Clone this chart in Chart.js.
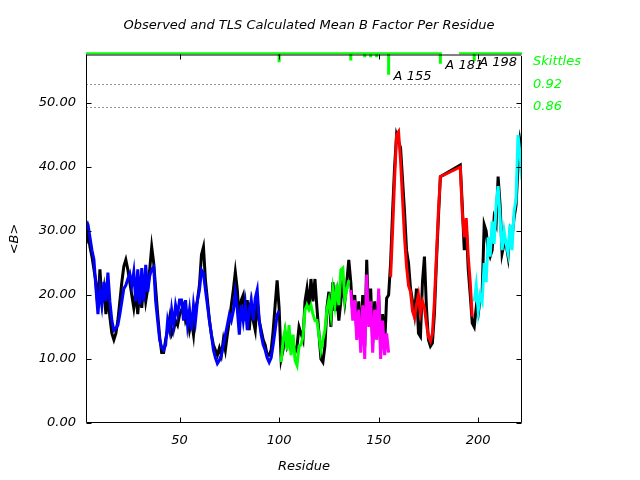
<!DOCTYPE html>
<html><head><meta charset="utf-8">
<script src="https://cdn.jsdelivr.net/npm/chart.js@4/dist/chart.umd.min.js"></script>
<style>html,body{margin:0;padding:0;background:#fff}</style>
</head><body><canvas id="c" width="640" height="480"></canvas>
<script>
// ---------- data ----------
const xTicks = [50, 100, 150, 200];
const yTicks = [0, 10, 20, 30, 40, 50];
const skittleTicks = [0.86, 0.92];

// observed mean B, residues 3..181 then 191..222
const observedStart1 = 3;
const observed1 = [
 28,30,27.5,26,24,22,18,24,19,21,17,20,16.5,14,13,14,16,19,22,24.5,25.5,24,22,20,18,20.5,17,21,18,22,19,21,24,27.5,25,21,17,13.5,11,
 11,13,14.5,16.4,13.8,14.5,16,15.3,16.9,17.7,18.4,16,16.9,14.5,16,13.8,17.7,19.2,21.6,26.3,27.5,22.3,19.2,16,13.8,12.2,11.4,10.6,11.7,10.6,
 13,11.4,13.8,16,18.4,20.8,23.6,20.8,16,19.2,20,16,19.2,14.5,18.4,16,14.5,19.2,16,14.5,13,12.2,10.6,10.6,11.4,14.4,18.4,22.3,18,
 10,11.5,14,12,13,11.5,12.5,11,12,15,14,13,19,21,18,22.5,19,22.5,18,14,10,9.5,12,18,20.5,15,22,17.5,20,16,19,22,19,22,25.5,
 22,17,20,14,19,12,20,12,25.5,16,21,12.5,19,14,20,11.5,17,12,19.5,20,
 25,33,40,45,44,43,38,33,27,25,21,19,17,21,14,13.5,22,26,18,13,12,12.5,17,25,32,38.5
];
const observedStart2 = 191;
const observed2 = [
 40.3,34,27,31,24,20,15.6,15,18,17,19.5,20.5,31,30,27,26,27,32,31,38.5,34,26.5,28,28,26,30,29,32,34,40,44,42
];

// TLS calculated mean B by segment
const calcBlueStart = 3;
const calcBlue = [
 31.5,31,29,27,25.5,21,17,21,18.5,22,19,23.5,19,16,14.5,14.8,15.3,17,19,21,21.5,22.5,23.3,21.5,23.6,19,24,18.5,24.2,19,24.7,20.5,23,24,24.4,19,16,13,11.8,
 11.4,12.2,16,14.5,17.7,15.3,18.4,16.9,19.2,19.2,16,19.2,15.3,17.7,14.5,18.4,16,19.2,20.8,23.9,23.4,20.8,18.4,16,13.8,11.4,10.2,9.3,9.8,10.6,
 12.2,13.8,15.3,16.9,16,17.5,20.3,17.7,13.8,18.4,16,18.5,14.5,17.7,19.2,16,19.5,20.8,16,13.8,12.2,11.4,10.2,9.5,10.2,12.2,14.5,16.9,17.5
];
const calcGreenStart = 101;
const calcGreen = [
 9.5,13,14.5,11.4,15.3,10.6,13.8,9.8,9,12,12.2,13.5,17.7,18.4,17.7,18.4,17,16,16,13.8,11.4,13,14.5,17.7,19.2,16.9,20.8,18.4,21.6,18.4,23.9,24.2,19.2,20.8,22.3
];
const calcMagentaStart = 136;
const calcMagenta = [
 20.8,16,19.2,13,17.7,11,18.4,10,23.2,15,19,11,17.7,13,21,10,16,10.6,14,11
];
const calcRedStart1 = 156;
const calcRed1 = [
 22.8,30,38,45,45.5,41,35,29,24.5,21.5,20.5,17.5,16.5,18.5,20,17.2,19,18,15.5,13.5,12.8,14,19,26,33,38.5
];
const calcRedStart2 = 191;
const calcRed2 = [40,33,29,32,26,22,16.6];
const calcCyanStart = 198;
const calcCyan = [
 19,21.5,17.5,20,19,25,22,29,26,31.5,28,34,37,32,27,30,28,26.5,31,27,33,35,45,42,38
];

// skittles (secondary axis, 0..1)
const skittleTop = 1.005;
const skittleLineRanges = [[3, 181.7], [190.4, 222]];
const skittleRes = [100, 136, 143, 146, 149, 155, 181, 198];
const skittleBottom = [0.980, 0.985, 0.994, 0.994, 0.994, 0.946, 0.976, 0.984];
const skittleLabels = ['A 155', 'A 181', 'A 198'];
const skittleLabelRes = [155, 181, 198];

// ---------- build ----------
const F = '"DejaVu Sans", Verdana, sans-serif';
const pts = (start, vals) => vals.map((v, i) => ({x: start + i, y: v}));

const skitLine = [];
skittleLineRanges.forEach((r, i) => {
  if (i > 0) skitLine.push({x: (skittleLineRanges[i-1][1] + r[0]) / 2, y: null});
  skitLine.push({x: r[0], y: skittleTop}, {x: r[1], y: skittleTop});
});
const skitSpikes = [];
skittleRes.forEach((r, i) => {
  skitSpikes.push({x: r, y: skittleTop}, {x: r, y: skittleBottom[i]}, {x: r + 0.5, y: null});
});

const lineDs = (data, color, order) => ({
  type: 'line', data, borderColor: color, backgroundColor: color, borderWidth: 3,
  pointRadius: 0, tension: 0, fill: false, order, yAxisID: 'y'
});

const datasets = [
  {type:'line', data: skitLine, borderColor:'#00ff00', borderWidth:2, pointRadius:0, yAxisID:'y2', clip:false, spanGaps:false, order:0, borderCapStyle:'butt'},
  {type:'line', data: skitSpikes, borderColor:'#00ff00', borderWidth:3, pointRadius:0, yAxisID:'y2', clip:false, spanGaps:false, order:0, borderCapStyle:'butt'},
  lineDs(pts(calcBlueStart, calcBlue), '#0000ff', 1),
  lineDs(pts(calcGreenStart, calcGreen), '#00ff00', 1),
  lineDs(pts(calcMagentaStart, calcMagenta), '#ff00ff', 1),
  lineDs(pts(calcRedStart1, calcRed1).concat(pts(calcRedStart2, calcRed2)), '#ff0000', 1),
  lineDs(pts(calcCyanStart, calcCyan), '#00ffff', 1),
  lineDs(pts(observedStart1, observed1).concat(pts(observedStart2, observed2)), '#000000', 2)
];

const decor = {
  id: 'decor',
  beforeDatasetsDraw(chart) {
    const {ctx, chartArea: a, scales} = chart;
    const y2 = scales.y2;
    ctx.save();
    ctx.strokeStyle = '#999999';
    ctx.lineWidth = 1;
    ctx.setLineDash([2, 2]);
    skittleTicks.forEach(v => {
      const py = Math.round(y2.getPixelForValue(v)) + 0.5;
      ctx.beginPath(); ctx.moveTo(a.left, py); ctx.lineTo(a.right, py); ctx.stroke();
    });
    ctx.restore();
  },
  afterDatasetsDraw(chart) {
    const {ctx, chartArea: a, scales} = chart;
    ctx.save();
    ctx.strokeStyle = '#000';
    ctx.lineWidth = 1;
    ctx.setLineDash([]);
    const L = Math.round(a.left) + 0.5, R = Math.round(a.right) - 0.5;
    const T = Math.round(a.top) - 0.5, B = Math.round(a.bottom) - 0.5;
    ctx.beginPath();
    ctx.moveTo(L, B); ctx.lineTo(R, B); ctx.lineTo(R, T + 1.5);
    ctx.moveTo(L, B); ctx.lineTo(L, T);
    ctx.stroke();
    // top frame under skittle line
    ctx.beginPath(); ctx.moveTo(L, T + 0.5); ctx.lineTo(R, T + 0.5); ctx.stroke();
    // inward ticks
    const tl = 5;
    yTicks.forEach(v => {
      const py = Math.round(scales.y.getPixelForValue(v)) + 0.5;
      ctx.beginPath(); ctx.moveTo(L, py); ctx.lineTo(L + tl, py);
      ctx.moveTo(R, py); ctx.lineTo(R - tl, py); ctx.stroke();
    });
    xTicks.forEach(v => {
      const px = Math.round(scales.x.getPixelForValue(v)) + 0.5;
      ctx.beginPath(); ctx.moveTo(px, B); ctx.lineTo(px, B - tl);
      ctx.moveTo(px, T); ctx.lineTo(px, T + tl); ctx.stroke();
    });
    // redraw skittle top line above frame
    ctx.restore();
  },
  afterDraw(chart) {
    const {ctx, chartArea: a, scales} = chart;
    ctx.save();
    ctx.font = 'italic 13px ' + F;
    ctx.fillStyle = '#000';
    ctx.textAlign = 'center';
    ctx.textBaseline = 'middle';
    ctx.fillText('Observed and TLS Calculated Mean B Factor Per Residue', (a.left + a.right) / 2 + 5, 26);
    // skittle labels
    ctx.textAlign = 'left';
    skittleLabelRes.forEach((r, i) => {
      const idx = skittleRes.indexOf(r);
      const px = scales.x.getPixelForValue(r) + 5;
      const py = scales.y2.getPixelForValue(skittleBottom[idx]) + 2;
      ctx.fillText(skittleLabels[i], px, py);
    });
    ctx.fillStyle = '#00ff00';
    ctx.fillText('Skittles', a.right + 11, a.top + 7);
    ctx.restore();
  }
};

const tickFont = {family: F, size: 13, style: 'italic'};

new Chart(document.getElementById('c'), {
  type: 'line',
  data: {datasets},
  plugins: [decor],
  options: {
    responsive: false, animation: false, devicePixelRatio: 1,
    layout: {padding: {top: 55, left: 0, right: 0, bottom: 0}},
    plugins: {legend: {display: false}, title: {display: false}, tooltip: {enabled: false}},
    scales: {
      x: {
        type: 'linear', min: 3, max: 222, offset: false,
        grid: {display: false, drawTicks: false}, border: {display: false},
        afterBuildTicks: s => { s.ticks = xTicks.map(v => ({value: v})); },
        afterFit: s => { s.height = 57; },
        ticks: {padding: 10, color: '#000', font: tickFont, maxRotation: 0, autoSkip: false, callback: v => String(v)},
        title: {display: true, text: 'Residue', color: '#000', font: tickFont, padding: {top: 4, bottom: 6}}
      },
      y: {
        type: 'linear', position: 'left', min: 0, max: 57.5,
        grid: {display: false, drawTicks: false}, border: {display: false},
        afterBuildTicks: s => { s.ticks = yTicks.map(v => ({value: v})); },
        afterFit: s => { s.width = 86; },
        ticks: {padding: 10, color: '#000', font: tickFont, callback: v => Number(v).toFixed(2)},
        title: {display: true, text: '<B>', color: '#000', font: tickFont, padding: {top: 7, bottom: 0}}
      },
      y2: {
        type: 'linear', position: 'right', min: 0, max: 1,
        grid: {display: false, drawTicks: false}, border: {display: false},
        afterBuildTicks: s => { s.ticks = skittleTicks.map(v => ({value: v})); },
        afterFit: s => { s.width = 118; },
        ticks: {padding: 11, color: '#00ff00', font: tickFont, callback: v => Number(v).toFixed(2)}
      }
    }
  }
});
</script>
</body></html>
